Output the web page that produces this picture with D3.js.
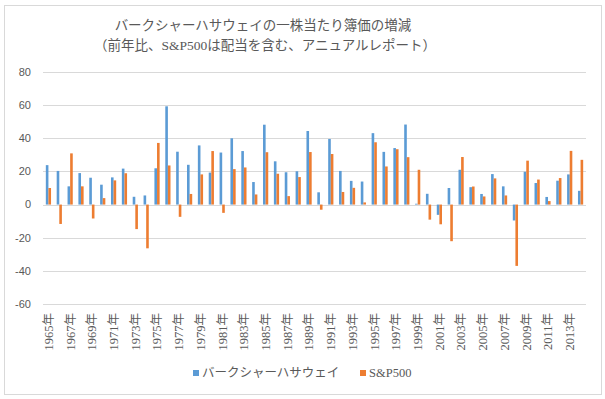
<!DOCTYPE html>
<html>
<head>
<meta charset="utf-8">
<script src="https://cdn.jsdelivr.net/npm/d3@7"></script>
<style>
  body { margin: 0; background: #fff; }
  svg text { fill: #595959; }
</style>
</head>
<body>
<div id="chart"></div>
<script>
/* Berkshire book value per share vs S&P500 — grouped bars */

const years = d3.range(1965, 2015).map(String);
const seriesNames = ["バークシャーハサウェイ", "S&P500"];

const berkshire = [
  23.8, 20.3, 11.0, 19.0, 16.2, 12.0, 16.4, 21.7, 4.7, 5.5,
  21.9, 59.3, 31.9, 24.0, 35.7, 19.3, 31.4, 40.0, 32.3, 13.6,
  48.2, 26.1, 19.5, 20.1, 44.4, 7.4, 39.6, 20.3, 14.3, 13.9,
  43.1, 31.8, 34.1, 48.3, 0.5, 6.5, -6.2, 10.0, 21.0, 10.5,
  6.4, 18.4, 11.0, -9.6, 19.8, 13.0, 4.6, 14.4, 18.2, 8.3
];
const sp500 = [
  10.0, -11.7, 30.9, 11.0, -8.4, 3.9, 14.6, 18.9, -14.8, -26.4,
  37.2, 23.6, -7.4, 6.4, 18.2, 32.3, -5.0, 21.4, 22.4, 6.1,
  31.6, 18.6, 5.1, 16.6, 31.7, -3.1, 30.5, 7.6, 10.1, 1.3,
  37.6, 23.0, 33.4, 28.6, 21.0, -9.1, -11.9, -22.1, 28.7, 10.9,
  4.9, 15.8, 5.5, -37.0, 26.5, 15.1, 2.1, 16.0, 32.4, 27.0
];
const yTicks = [-60, -40, -20, 0, 20, 40, 60, 80];
const colors = ["#5B9BD5", "#ED7D31"];

const W = 605, H = 399;
const plot = { left: 43, right: 586, top: 72, bottom: 304 };
const serif = "'Liberation Serif', 'Noto Sans CJK JP', serif";
const sans = "'Liberation Sans', 'Noto Sans CJK JP', sans-serif";

const svg = d3.select("#chart").append("svg")
  .attr("width", W).attr("height", H);

// chart frame
svg.append("rect")
  .attr("x", 4.5).attr("y", 5.5).attr("width", 597).attr("height", 389)
  .attr("fill", "#fff").attr("stroke", "#D9D9D9");

const x0 = d3.scaleBand().domain(years)
  .range([plot.left, plot.right])
  .paddingInner(0.52).paddingOuter(0.26);
const x1 = d3.scaleBand().domain([0, 1]).range([0, x0.bandwidth()]);
const y = d3.scaleLinear().domain([-60, 80]).range([plot.bottom, plot.top]);

// gridlines
svg.append("g").selectAll("line")
  .data(yTicks).join("line")
  .attr("x1", plot.left).attr("x2", plot.right)
  .attr("y1", d => Math.round(y(d)) + 0.5).attr("y2", d => Math.round(y(d)) + 0.5)
  .attr("stroke", "#D9D9D9").attr("stroke-width", 1);

// y labels
svg.append("g").selectAll("text")
  .data(yTicks).join("text")
  .attr("x", 31).attr("y", d => y(d)).attr("dy", "0.35em")
  .attr("text-anchor", "end")
  .style("font-family", sans).style("font-size", "11px")
  .text(d => d);

// bars
const rows = years.map((yr, i) => ({ year: yr, vals: [berkshire[i], sp500[i]] }));
svg.append("g").selectAll("g")
  .data(rows).join("g")
  .attr("transform", d => `translate(${x0(d.year)},0)`)
  .selectAll("rect")
  .data(d => d.vals.map((v, k) => ({ v, k })))
  .join("rect")
  .attr("x", d => x1(d.k))
  .attr("width", x1.bandwidth())
  .attr("y", d => y(Math.max(0, d.v)))
  .attr("height", d => Math.abs(y(d.v) - y(0)))
  .attr("fill", d => colors[d.k]);

// x labels, every other year
svg.append("g").selectAll("text")
  .data(years.filter((d, i) => i % 2 === 0)).join("text")
  .attr("transform", d => `translate(${x0(d) + x0.bandwidth() / 2},313) rotate(-90)`)
  .attr("dy", "0.35em")
  .attr("text-anchor", "end")
  .style("font-family", serif).style("font-size", "12.5px")
  .text(d => d + "年");

// title
const title = svg.append("text")
  .attr("x", 263).attr("text-anchor", "middle")
  .style("font-family", serif).style("font-size", "13.5px");
title.append("tspan").attr("x", 263).attr("y", 30)
  .text("バークシャーハサウェイの一株当たり簿価の増減");
title.append("tspan").attr("x", 265).attr("y", 50)
  .text("（前年比、S&P500は配当を含む、アニュアルレポート）");

// legend
const legendX = [193, 360];
const lg = svg.append("g").selectAll("g")
  .data(seriesNames).join("g")
  .attr("transform", (d, i) => `translate(${legendX[i]},373)`);
lg.append("rect")
  .attr("x", 0).attr("y", -3).attr("width", 6).attr("height", 6)
  .attr("fill", (d, i) => colors[i]);
lg.append("text")
  .attr("x", 9).attr("dy", "0.35em")
  .style("font-family", serif).style("font-size", "12.5px")
  .text(d => d);
</script>
</body>
</html>
